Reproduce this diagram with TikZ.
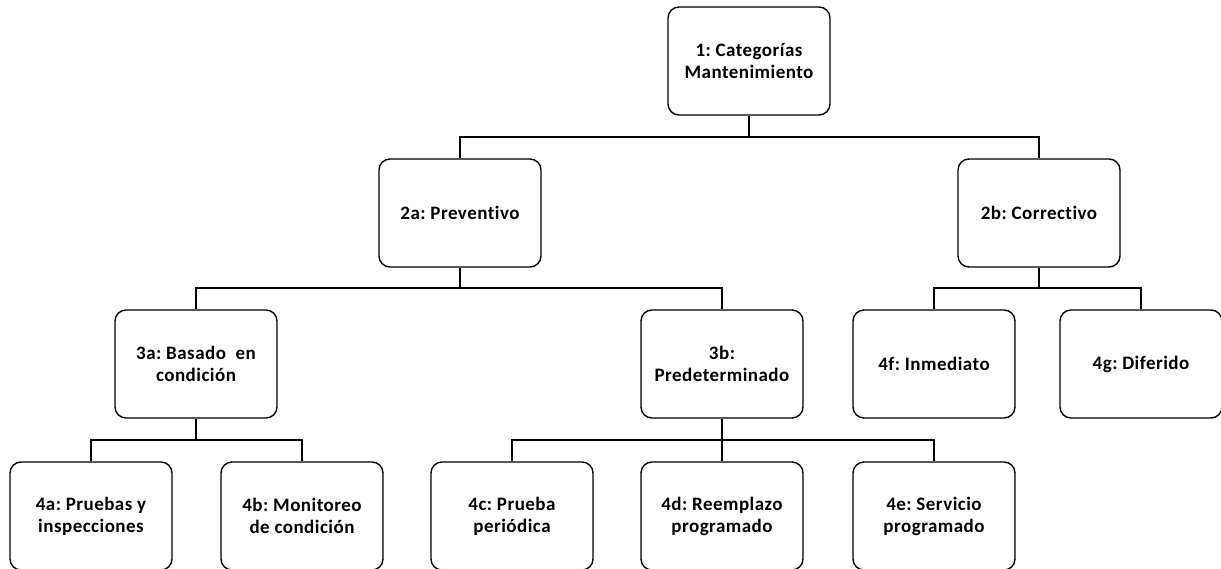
\documentclass[tikz,border=0pt]{standalone}
\usepackage{fontspec}
\setmainfont{Carlito}[Ligatures=NoCommon,LetterSpace=2.5]
\frenchspacing
\begin{document}
\begin{tikzpicture}[x=1pt,y=-1pt,
  box/.style={draw, line width=1.4pt, rounded corners=11pt, minimum width=162pt, minimum height=108pt,
    inner sep=0pt, align=center, font=\bfseries\fontsize{19}{22}\selectfont},
  link/.style={line width=1.4pt}]
\useasboundingbox (0,0) rectangle (1221,569);
\clip (0,0) rectangle (1221,569);
% nodes
\node[box] (n1) at (749,61) {1: Categorías\\Mantenimiento};
\node[box] (n2a) at (460,213) {2a: Preventivo};
\node[box] (n2b) at (1039,213) {2b: Correctivo};
\node[box] (n3a) at (196,364) {3a: Basado\ \ en\\condición};
\node[box] (n3b) at (722,364) {3b:\\Predeterminado};
\node[box] (n4f) at (934,364) {4f: Inmediato};
\node[box] (n4g) at (1141,364) {4g: Diferido};
\node[box] (n4a) at (91,516) {4a: Pruebas y\\inspecciones};
\node[box] (n4b) at (302,516) {4b: Monitoreo\\de condición};
\node[box] (n4c) at (512,516) {4c: Prueba\\periódica};
\node[box] (n4d) at (722,516) {4d: Reemplazo\\programado};
\node[box] (n4e) at (934,516) {4e: Servicio\\programado};
% bus levels
\coordinate (b1) at (0,137);
\coordinate (b2) at (0,288);
\coordinate (b3) at (0,440);
% connectors
\draw[link] (n1.south) -- (n1.south |- b1) -| (n2a.north);
\draw[link] (n1.south |- b1) -| (n2b.north);
\draw[link] (n2a.south) -- (n2a.south |- b2) -| (n3a.north);
\draw[link] (n2a.south |- b2) -| (n3b.north);
\draw[link] (n2b.south) -- (n2b.south |- b2) -| (n4f.north);
\draw[link] (n2b.south |- b2) -| (n4g.north);
\draw[link] (n3a.south) -- (n3a.south |- b3) -| (n4a.north);
\draw[link] (n3a.south |- b3) -| (n4b.north);
\draw[link] (n3b.south) -- (n3b.south |- b3) -| (n4c.north);
\draw[link] (n3b.south |- b3) -- (n4d.north);
\draw[link] (n3b.south |- b3) -| (n4e.north);
\end{tikzpicture}
\end{document}
